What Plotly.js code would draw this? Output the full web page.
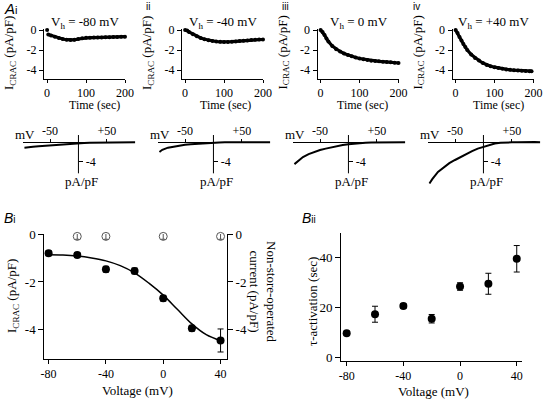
<!DOCTYPE html>
<html><head><meta charset="utf-8">
<script src="https://cdn.plot.ly/plotly-3.0.1.min.js"></script>
<style>html,body{margin:0;padding:0;background:#fff}#chart{width:546px;height:400px}</style>
</head><body><div id="chart"></div>
<script>
// ---------- DATA ----------
// A: I_CRAC time courses (pA/pF) at four holding potentials
const holdingLabels = ['V<sub>h</sub> = -80 mV','V<sub>h</sub> = -40 mV','V<sub>h</sub> = 0 mV','V<sub>h</sub> = +40 mV'];
const panelNumerals = ['i','ii','iii','iv'];
const time1 = [0,null,3,10,20,30,40,50,60,70,80,90,100,110,120,130,140,150,160,170,180,190,200];
const cur1  = [0,null,-0.45,-0.55,-0.68,-0.8,-0.9,-0.97,-1.0,-0.98,-0.9,-0.83,-0.78,-0.77,-0.76,-0.75,-0.74,-0.73,-0.72,-0.7,-0.69,-0.68,-0.67];
const time2 = [0,5,10,20,30,40,50,60,70,80,90,100,110,120,130,140,150,160,170,180,190,200];
const cur2  = [0,-0.05,-0.2,-0.42,-0.62,-0.8,-0.92,-1.02,-1.1,-1.15,-1.18,-1.2,-1.2,-1.17,-1.14,-1.1,-1.08,-1.04,-1.0,-0.98,-0.96,-0.95];
const time3 = [0,5,10,15,20,30,40,50,60,70,80,90,100,110,120,130,140,150,160,170,180,190,200];
const cur3  = [0,-0.2,-0.5,-0.85,-1.15,-1.6,-1.92,-2.15,-2.35,-2.5,-2.62,-2.75,-2.85,-2.92,-3.0,-3.07,-3.1,-3.13,-3.17,-3.2,-3.23,-3.27,-3.3];
const time4 = [0,5,10,15,20,25,30,40,50,60,70,80,90,100,110,120,130,140,150,160,170,180,190,195];
const cur4  = [0,-0.3,-0.7,-1.05,-1.4,-1.7,-2.0,-2.45,-2.8,-3.05,-3.3,-3.5,-3.62,-3.72,-3.8,-3.88,-3.94,-3.98,-4.02,-4.05,-4.08,-4.1,-4.12,-4.12];
const timeTicks = [0,100,200];
const timeTickText = ['0','100','200'];
const curTicks = [0,-2,-4];
const curTickText = ['0','-2','-4'];

// A: I-V relations (mV, pA/pF)
const ivVolt = [-95,-90,-80,-70,-60,-50,-40,-30,-20,-10,0,10,20,30,40,50,60,70,80,90,100];
const ivCur1 = [-1.1,-1.0,-0.9,-0.8,-0.7,-0.6,-0.5,-0.42,-0.35,-0.27,-0.2,-0.15,-0.1,-0.07,-0.05,-0.03,-0.02,0,0,0,0];
const ivCur2 = [-2.0,-1.55,-1.1,-0.85,-0.65,-0.5,-0.38,-0.28,-0.2,-0.14,-0.08,-0.04,0,0,0,0,0,0,0,0.02,0.03];
const ivCur3 = [-4.5,-3.95,-3.05,-2.45,-2.0,-1.6,-1.3,-1.0,-0.76,-0.55,-0.4,-0.25,-0.15,-0.08,-0.04,-0.02,0,0,0,0,0];
const ivCur4 = [-8.5,-7.6,-6.1,-5.1,-4.3,-3.65,-3.0,-2.4,-1.8,-1.3,-0.9,-0.5,-0.25,-0.1,0,0,0,0.05,0,0.05,0];
const ivXTicks = [-50,50];
const ivXTickText = ['-50','+50'];
const ivYTicks = [-4];
const ivYTickText = ['-4'];

// B: voltage dependence
const volt = [-80,-60,-40,-20,0,20,40];
const icrac = [-0.8,-0.88,-1.47,-1.54,-2.68,-3.93,-4.44];
const icracErr = [0.1,0.1,0.12,0.12,0.12,0.12,0.48];
const nsoVolt = [-60,-40,0,40];
const nsoCur = [-0.1,-0.1,-0.1,-0.1];
const nsoErr = [0.12,0.12,0.12,0.12];
const fitVolt = [-80,-70,-60,-50,-40,-30,-20,-10,0,10,20,30,40];
const fitCur = [-0.87,-0.88,-0.92,-1.0,-1.12,-1.32,-1.62,-2.05,-2.55,-3.15,-3.75,-4.2,-4.45];
const tau = [9.6,17.2,20.5,15.4,28.3,29.4,39.4];
const tauErr = [0.8,3.2,1.0,1.7,1.5,4.2,5.3];
const voltTicks = [-80,-40,0,40];
const voltTickText = ['-80','-40','0','40'];
const tauTicks = [0,20,40];
const tauTickText = ['0','20','40'];

// ---------- LAYOUT HELPERS ----------
const W=546,H=400;
const px=(a,b)=>[a/W,b/W];
const py=(top,bottom)=>[1-bottom/H,1-top/H];
const SERIF='Liberation Serif, Times New Roman, serif';
const SANS='Liberation Sans, Arial, sans-serif';
const base={showgrid:false,zeroline:false,showline:true,linecolor:'#000',linewidth:1,ticks:'outside',tickcolor:'#000',tickwidth:1,tickfont:{family:SERIF,size:13,color:'#000'}};
const f12={family:SERIF,size:12,color:'#000'};

const layout={width:W,height:H,margin:{l:0,r:0,t:0,b:0},paper_bgcolor:'#fff',plot_bgcolor:'rgba(0,0,0,0)',
  showlegend:false,font:{family:SERIF,size:13,color:'#000'},annotations:[],shapes:[]};
const data=[];
const ann=(o)=>layout.annotations.push(Object.assign({xref:'paper',yref:'paper',showarrow:false,font:{family:SERIF,size:13,color:'#000'}},o));

// ---------- A: time courses ----------
const times=[time1,time2,time3,time4];
const curs=[cur1,cur2,cur3,cur4];
const topLeft=[44,182,317.5,452.5];
const titleX=[94,226,362,498];
for(let i=0;i<4;i++){
  const n=i+1, L=topLeft[i];
  layout['xaxis'+n]=Object.assign({},base,{domain:px(L,L+81),range:[-8,200],anchor:'y'+n,ticklen:3,tickvals:timeTicks,ticktext:timeTickText,tickfont:f12});
  layout['yaxis'+n]=Object.assign({},base,{domain:py(29,78.5),range:[-4.85,0.1],anchor:'x'+n,ticklen:4,tickvals:curTicks,ticktext:curTickText,tickfont:f12});
  data.push({x:times[i],y:curs[i],xaxis:'x'+n,yaxis:'y'+n,type:'scatter',mode:'lines+markers',
    line:{color:'#000',width:3.2},marker:{color:'#000',size:4},cliponaxis:false,hoverinfo:'skip'});
  ann({x:(L+41)/W,y:1-22/H,text:holdingLabels[i],xanchor:'center',yanchor:'middle'});
  ann({x:(L-35)/W,y:1-53/H,text:'I<sub>CRAC</sub> (pA/pF)',textangle:-90,xanchor:'center',yanchor:'middle'});
  ann({x:titleX[i]/W,y:1-105.5/H,text:'Time (sec)',xanchor:'center',yanchor:'middle',font:f12});
}
ann({x:2/W,y:1-9/H,text:'<i>A</i><span style="font-size:11px">i</span>',xanchor:'left',yanchor:'middle',font:{family:SANS,size:15,color:'#000'}});
const numX=[0,144,280,411];
for(let i=1;i<4;i++) ann({x:numX[i]/W,y:1-6/H,text:panelNumerals[i],xanchor:'left',yanchor:'middle',font:{family:SANS,size:10,color:'#000'}});

// ---------- A: I-V relations ----------
const ivCurs=[ivCur1,ivCur2,ivCur3,ivCur4];
const ivOrigin=[78.3,213.3,348.3,483.3];
const ivZeroY=142.3, ivScale=4.85, ivTop=118, ivBot=194;
for(let i=0;i<4;i++){
  const n=i+5,o=ivOrigin[i];
  layout['xaxis'+n]=Object.assign({},base,{domain:px(o-55,o+57),range:[-97,100],anchor:'free',position:1-ivZeroY/H,side:'top',
    ticklen:3,tickvals:ivXTicks,ticktext:ivXTickText,tickfont:f12});
  layout['yaxis'+n]=Object.assign({},base,{domain:py(ivTop,ivBot),range:[-(ivBot-ivZeroY)/ivScale,(ivZeroY-ivTop)/ivScale],
    anchor:'free',position:o/W,side:'right',showline:false,ticklen:4,tickvals:ivYTicks,ticktext:ivYTickText,tickfont:f12});
  data.push({x:ivVolt,y:ivCurs[i],xaxis:'x'+n,yaxis:'y'+n,type:'scatter',mode:'lines',line:{color:'#000',width:2},hoverinfo:'skip'});
  layout.shapes.push({type:'line',xref:'x'+n,yref:'y'+n,x0:0,x1:0,y0:1.5,y1:-6.4,line:{color:'#000',width:1}});
  ann({x:(o-53)/W,y:1-134/H,text:'mV',xanchor:'center',yanchor:'middle'});
  ann({x:(o+3)/W,y:1-181/H,text:'pA/pF',xanchor:'center',yanchor:'middle'});
}

// ---------- Bi ----------
layout.xaxis9=Object.assign({},base,{domain:px(44.3,227),range:[-83,44.5],anchor:'y9',ticklen:4,tickvals:voltTicks,ticktext:voltTickText,tickfont:f12});
layout.yaxis9=Object.assign({},base,{domain:py(234,358.7),range:[-5.2,0],anchor:'x9',ticklen:5,tickvals:curTicks,ticktext:curTickText});
layout.yaxis10=Object.assign({},base,{overlaying:'y9',side:'right',anchor:'x9',range:[-5.2,0],ticklen:5,tickvals:curTicks,ticktext:curTickText});
data.push({x:fitVolt,y:fitCur,xaxis:'x9',yaxis:'y9',type:'scatter',mode:'lines',line:{color:'#000',width:1.5,shape:'spline'},hoverinfo:'skip'});
data.push({x:volt,y:icrac,xaxis:'x9',yaxis:'y9',type:'scatter',mode:'markers',marker:{color:'#000',size:8},
  error_y:{type:'data',array:icracErr,visible:true,color:'#000',thickness:1,width:3},cliponaxis:false,hoverinfo:'skip'});
data.push({x:nsoVolt,y:nsoCur,xaxis:'x9',yaxis:'y10',type:'scatter',mode:'markers',marker:{symbol:'circle-open',color:'#555',size:8,line:{width:1}},
  error_y:{type:'data',array:nsoErr,visible:true,color:'#555',thickness:1,width:2},cliponaxis:false,hoverinfo:'skip'});
ann({x:2/W,y:1-218/H,text:'<i>B</i><span style="font-size:10px">i</span>',xanchor:'left',yanchor:'middle',font:{family:SANS,size:14,color:'#000'}});
ann({x:12/W,y:1-296/H,text:'I<sub>CRAC</sub> (pA/pF)',textangle:-90,xanchor:'center',yanchor:'middle'});
ann({x:263/W,y:1-292/H,text:'Non-store-operated<br>current (pA/pF)',textangle:90,xanchor:'center',yanchor:'middle'});
ann({x:137/W,y:1-390/H,text:'Voltage (mV)',xanchor:'center',yanchor:'middle'});

// ---------- Bii ----------
layout.xaxis10=Object.assign({},base,{domain:px(341,521.7),range:[-84,43.5],anchor:'y11',ticklen:4,tickvals:voltTicks,ticktext:voltTickText,tickfont:f12});
layout.yaxis11=Object.assign({},base,{domain:py(233.3,360.7),range:[-1.4,49.6],anchor:'x10',ticklen:5,tickvals:tauTicks,ticktext:tauTickText});
data.push({x:volt,y:tau,xaxis:'x10',yaxis:'y11',type:'scatter',mode:'markers',marker:{color:'#000',size:8},
  error_y:{type:'data',array:tauErr,visible:true,color:'#000',thickness:1,width:3},cliponaxis:false,hoverinfo:'skip'});
ann({x:300/W,y:1-218/H,text:'<i>B</i><span style="font-size:10px">ii</span>',xanchor:'left',yanchor:'middle',font:{family:SANS,size:14,color:'#000'}});
ann({x:312/W,y:1-302/H,text:'τ-activation (sec)',textangle:-90,xanchor:'center',yanchor:'middle'});
ann({x:433/W,y:1-391/H,text:'Voltage (mV)',xanchor:'center',yanchor:'middle'});

Plotly.newPlot('chart',data,layout,{staticPlot:true,displayModeBar:false});
</script></body></html>
